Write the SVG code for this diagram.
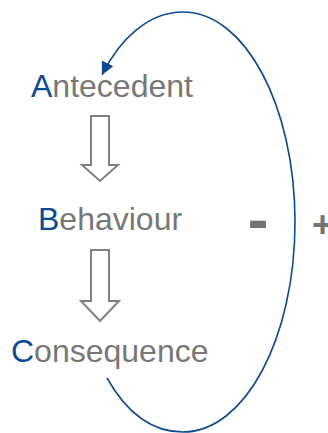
<svg xmlns="http://www.w3.org/2000/svg" width="328" height="433" viewBox="0 0 328 433">
  <style>
    .lbl { font-family: "Liberation Sans", Arial, sans-serif; font-size: 32px; fill: #777777; }
    .ini { fill: #0b4b91; }
    .blk { fill: #ffffff; stroke: #808080; stroke-width: 2; stroke-linejoin: miter; }
    .loop { fill: none; stroke: #0b4b91; stroke-width: 1.6; }
    .sign { font-family: "Liberation Sans", Arial, sans-serif; font-weight: bold; fill: #737373; text-anchor: middle; }
  </style>
  <defs>
    <marker id="head" markerUnits="userSpaceOnUse" markerWidth="16" markerHeight="14" refX="13" refY="6.5" orient="auto">
      <path d="M0,0 L13,6.5 L0,13 Z" fill="#0b4b91"/>
    </marker>
  </defs>

  <!-- feedback loop from Consequence back to Antecedent, plus the block arrows -->
  <g id="connectors">
    <path class="loop" marker-end="url(#head)"
          d="M107,378 C125,410 150,432 183,432 C245,432 295,338 295,222 C295,106 245,12 183,12 C148,12 119,40 102,75"/>
    <path class="blk" d="M91,116 L109,116 L109,165 L118,165 L100,181 L82,165 L91,165 Z"/>
    <path class="blk" d="M91,250 L109,250 L109,301 L119,301 L100,321 L81,301 L91,301 Z"/>
  </g>

  <g id="antecedent">
    <text class="lbl" x="31" y="97"><tspan class="ini">A</tspan>ntecedent</text>
  </g>
  <g id="behaviour">
    <text class="lbl" x="38" y="230"><tspan class="ini">B</tspan>ehaviour</text>
  </g>
  <g id="consequence">
    <text class="lbl" x="11" y="362"><tspan class="ini">C</tspan>onsequence</text>
  </g>

  <g id="signs">
    <text class="sign" x="258" y="240" font-size="62">-</text>
    <text class="sign" x="322.5" y="237" font-size="36">+</text>
  </g>
</svg>
